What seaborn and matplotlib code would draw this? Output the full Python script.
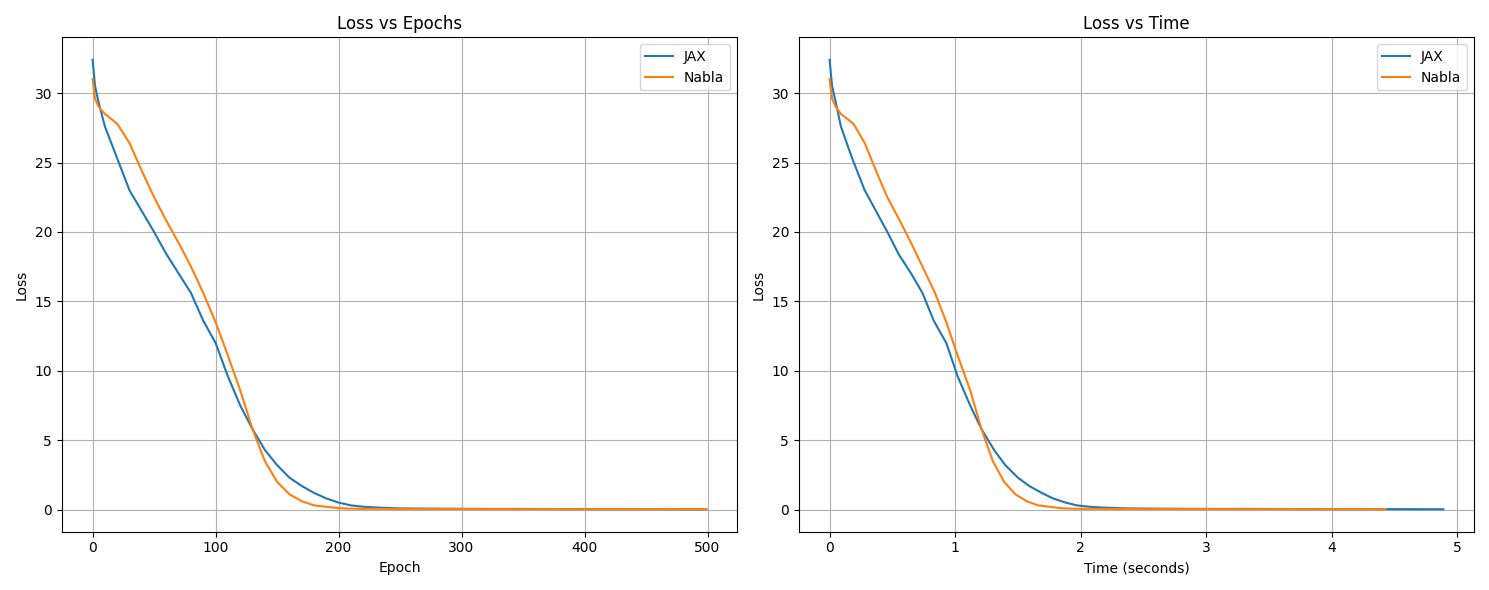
import matplotlib
matplotlib.use("Agg")
import matplotlib.pyplot as plt
import seaborn as sns

epochs = [0, 2, 5, 10, 20, 30, 40, 50, 60, 70, 80, 90, 100, 110, 120, 130, 140, 150, 160, 170,
          180, 190, 200, 210, 220, 230, 250, 300, 350, 400, 450, 499]
jax_loss = [32.4, 30.5, 29.3, 27.6, 25.3, 23.0, 21.5, 20.0, 18.4, 17.0, 15.6, 13.6, 12.0, 9.6, 7.5,
            5.8, 4.3, 3.2, 2.3, 1.7, 1.2, 0.8, 0.5, 0.3, 0.2, 0.15, 0.08, 0.05, 0.04, 0.03, 0.03, 0.02]
nabla_loss = [31.0, 29.6, 29.0, 28.5, 27.8, 26.4, 24.4, 22.5, 20.8, 19.2, 17.5, 15.6, 13.5, 11.1, 8.6,
              5.8, 3.5, 2.0, 1.1, 0.6, 0.3, 0.2, 0.1, 0.06, 0.05, 0.05, 0.04, 0.04, 0.03, 0.03, 0.03, 0.03]
jax_time = [0.0, 0.02, 0.05, 0.09, 0.18, 0.28, 0.37, 0.46, 0.55, 0.65, 0.74, 0.83, 0.93, 1.02,
            1.12, 1.21, 1.31, 1.40, 1.50, 1.59, 1.69, 1.78, 1.88, 1.97, 2.07, 2.16, 2.36, 2.86,
            3.42, 3.91, 4.40, 4.89]
nabla_time = [0.0, 0.02, 0.05, 0.09, 0.19, 0.28, 0.37, 0.46, 0.56, 0.65, 0.74, 0.84, 0.93, 1.02,
              1.12, 1.21, 1.30, 1.39, 1.48, 1.57, 1.66, 1.75, 1.84, 1.93, 2.02, 2.11, 2.29,
              2.74, 3.17, 3.59, 4.01, 4.43]

fig, (ax1, ax2) = plt.subplots(1, 2, figsize=(14.89, 5.9), dpi=100)

sns.lineplot(x=epochs, y=jax_loss, ax=ax1, label="JAX", color="#1f77b4")
sns.lineplot(x=epochs, y=nabla_loss, ax=ax1, label="Nabla", color="#ff7f0e")
ax1.set_title("Loss vs Epochs")
ax1.set_xlabel("Epoch")
ax1.set_ylabel("Loss")
ax1.grid(True)
ax1.legend(loc="upper right")

sns.lineplot(x=jax_time, y=jax_loss, ax=ax2, label="JAX", color="#1f77b4")
sns.lineplot(x=nabla_time, y=nabla_loss, ax=ax2, label="Nabla", color="#ff7f0e")
ax2.set_title("Loss vs Time")
ax2.set_xlabel("Time (seconds)")
ax2.set_ylabel("Loss")
ax2.grid(True)
ax2.legend(loc="upper right")

plt.tight_layout()
plt.savefig("out.png")
